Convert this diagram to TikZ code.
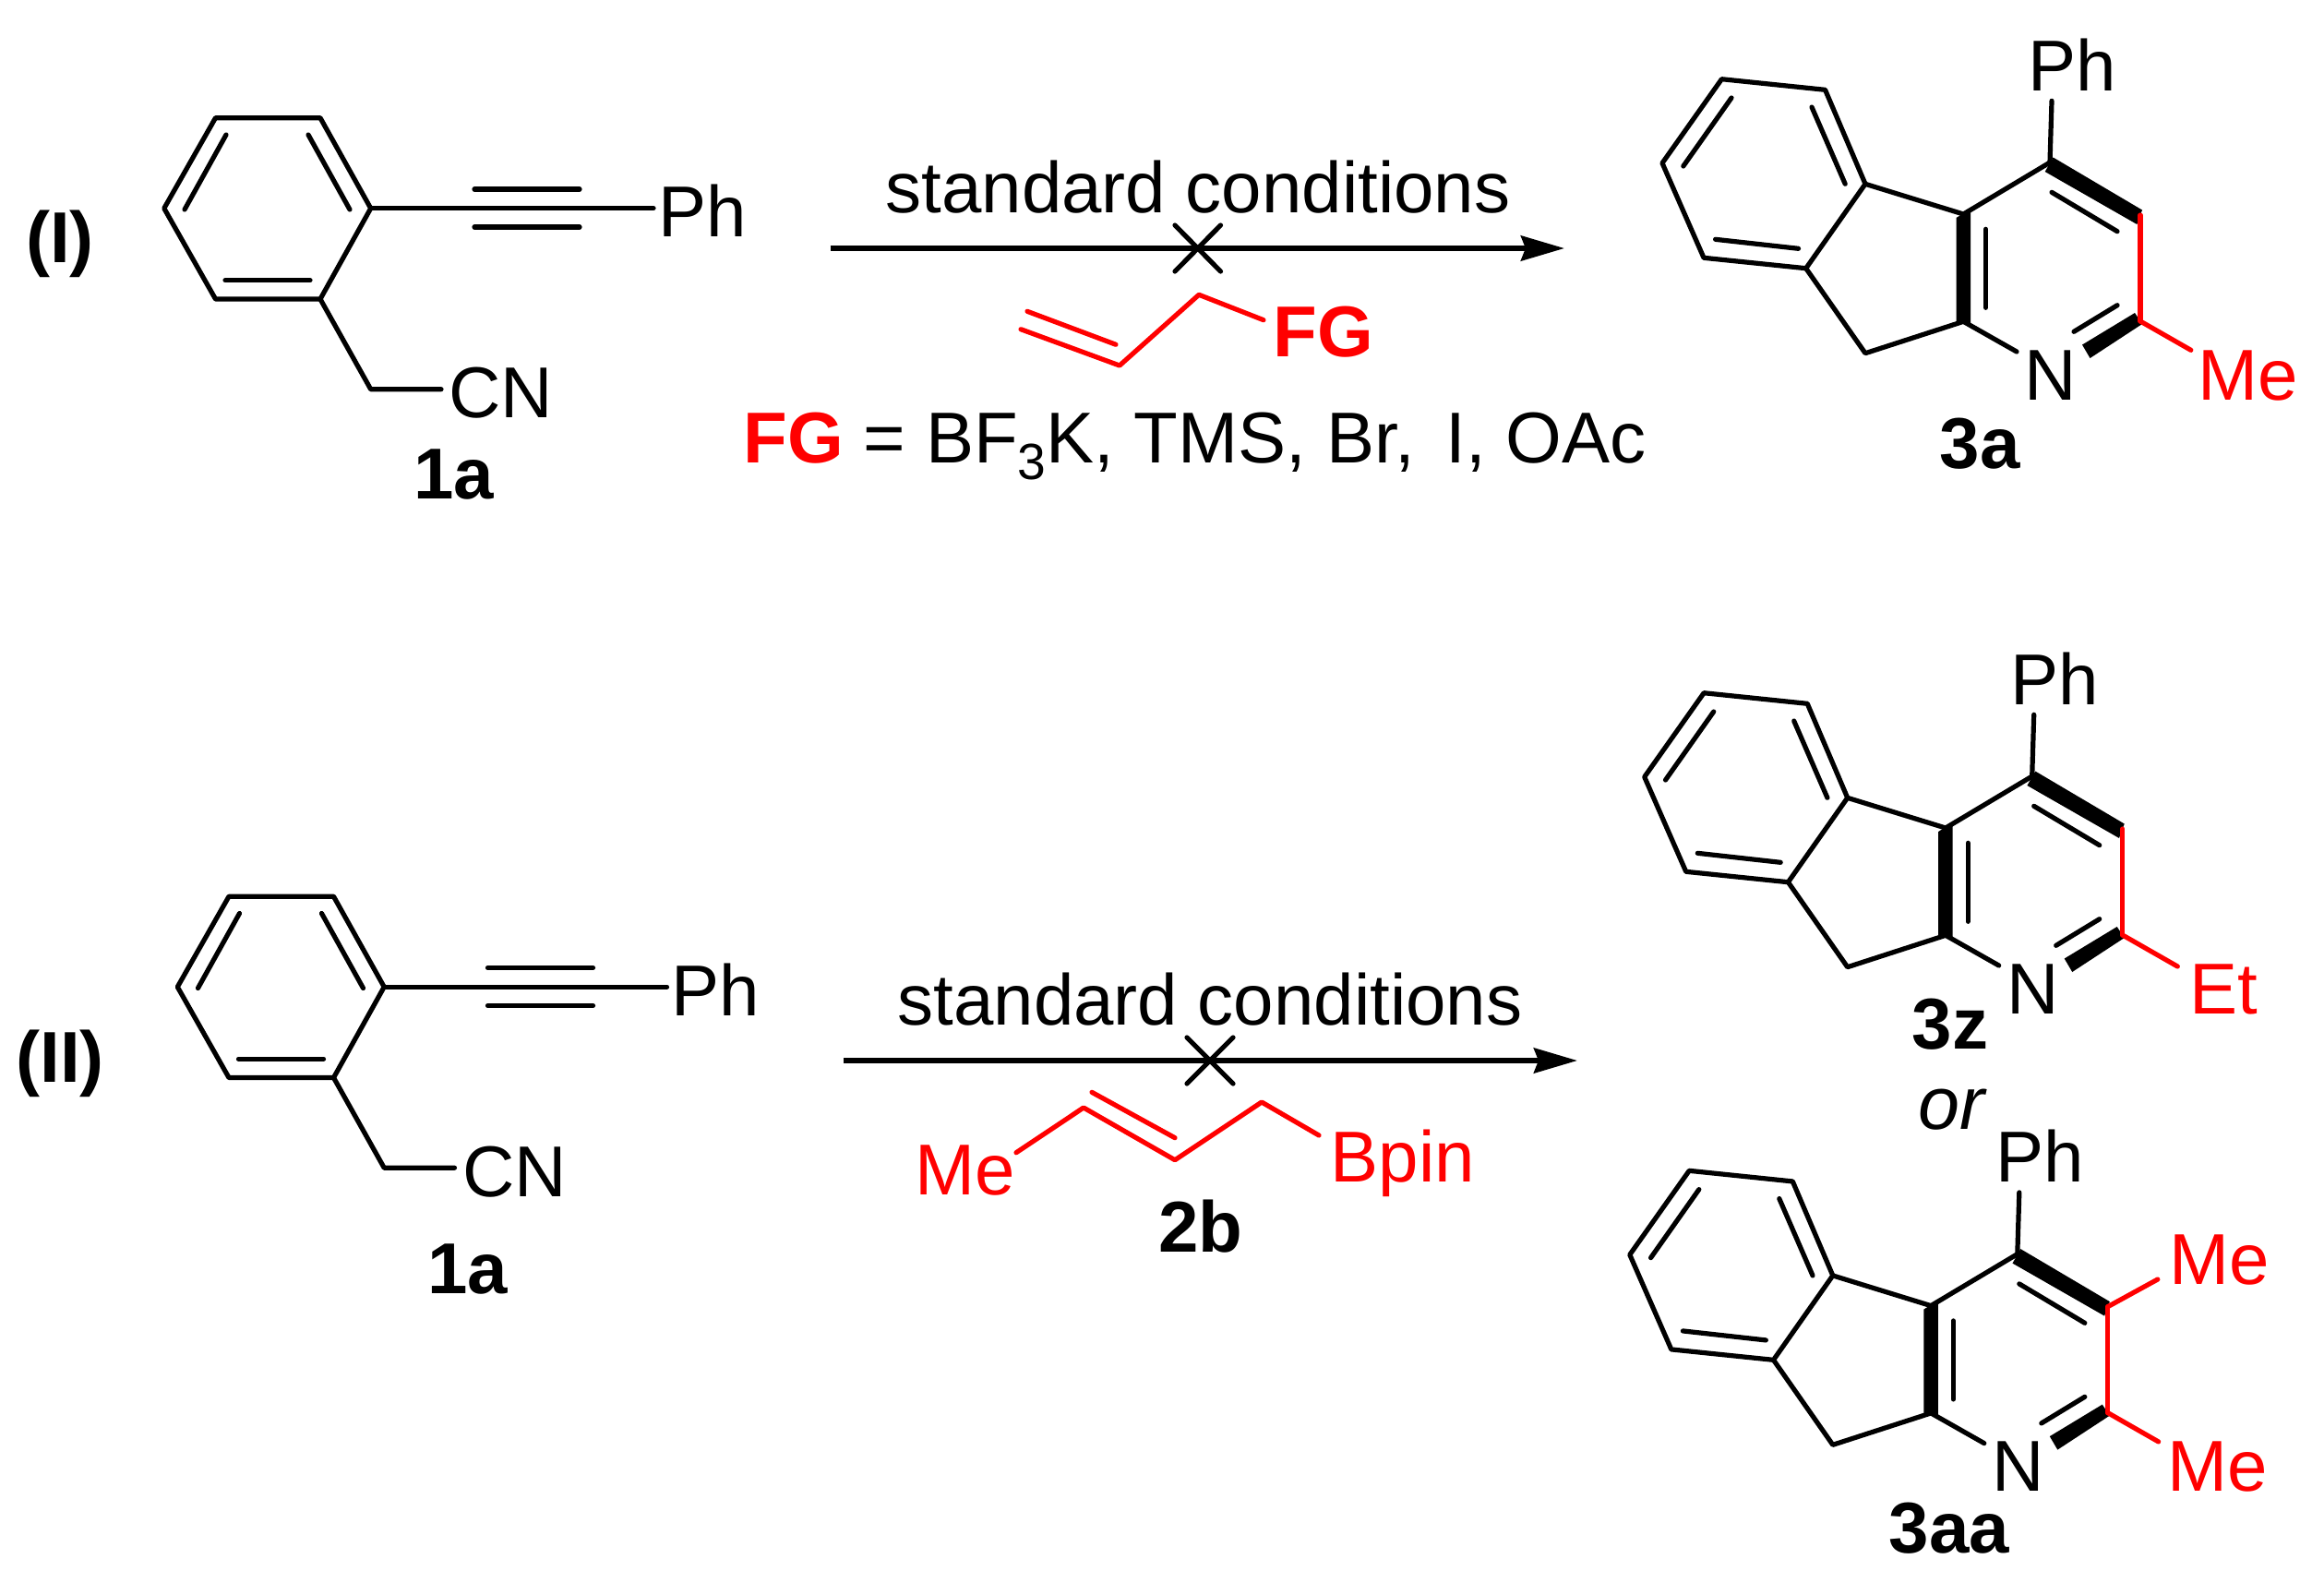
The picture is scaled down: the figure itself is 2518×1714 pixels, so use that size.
\documentclass[tikz,border=0pt]{standalone}
\usepackage{fontspec}
\setmainfont{Liberation Sans}
\usetikzlibrary{arrows.meta}
\definecolor{hl}{RGB}{255,0,0}
\tikzset{
  bond/.style={line width=0.052cm,line cap=round,line join=round,black},
  redbond/.style={bond,draw=hl},
  boldbond/.style={fill=black,draw=none},
  rxnarrow/.style={line width=0.058cm,-{Stealth[length=0.47cm,width=0.27cm,inset=0.05cm]}},
  chem/.style={inner sep=0,anchor=base,font=\fontsize{22.2}{26}\selectfont},
  redchem/.style={chem,text=hl},
  tag/.style={chem,font=\fontsize{22.2}{26}\selectfont\bfseries},
  redtag/.style={tag,text=hl}
}
\newcommand{\indenoCore}{%
  \coordinate (a) at (1865.4,85.7); \coordinate (b) at (1977.5,97.3);
  \coordinate (c) at (2021,199.3); \coordinate (d) at (1956.7,290.7);
  \coordinate (e) at (1846,279.3); \coordinate (f) at (1801,176.7);
  \coordinate (g) at (2127.3,232); \coordinate (h) at (2021,382.7);
  \coordinate (i) at (2127.3,348.3); \coordinate (j) at (2221,176);
  \coordinate (ph) at (2223,109.3); \coordinate (n) at (2185,381);
  \draw[bond] (a)--(b)--(c)--(d)--(e)--(f)--cycle;
  \draw[bond] (1876,106)--(1823.8,180);
  \draw[bond] (1963,116)--(1999.2,199.3);
  \draw[bond] (1858.6,259.3)--(1948.5,269.3);
  \draw[bond] (c)--(g)--(j);
  \draw[bond] (d)--(h)--(i)--(n);
  \draw[bond] (j)--(ph);
  \draw[bond] (2151.5,248.3)--(2151.5,333.3);
  \draw[bond] (2223,208.3)--(2294,250.7);
  \draw[bond] (2247,359.3)--(2294,330.7);
  \fill[boldbond] (2119.5,236)--(2127.3,231)--(2135,230)--(2135,351)--(2127.3,351)--(2119.5,348)--cycle;
  \fill[boldbond] (2224.5,170.5)--(2215.7,186)--(2315.3,243)--(2321,227.5)--cycle;
  \fill[boldbond] (2256,373.5)--(2264.5,388)--(2321,351)--(2313,339)--cycle;
  \coordinate (k) at (2319,233); \coordinate (l) at (2319,348);
  \draw[redbond] (k)--(l);
}
\newcommand{\subscr}[1]{\raisebox{-0.18cm}{\fontsize{15.7}{18}\selectfont #1}}
\begin{document}
\begin{tikzpicture}[x=0.01cm,y=-0.01cm]
\useasboundingbox[fill=white] (0,0) rectangle (2518,1714);

% ---- substrate 1a (two copies)
\foreach \sx/\sy/\ln in {0/0/one, 14.5/843.5/two}{
\begin{scope}[shift={(\sx,\sy)}]
  \coordinate (p1) at (233.5,127.7); \coordinate (p2) at (347,127.7);
  \coordinate (p3) at (401.7,225.7); \coordinate (p4) at (347,324);
  \coordinate (p5) at (233.5,324); \coordinate (p6) at (177.8,225.7);
  \coordinate (py) at (708,225.7); \coordinate (c1) at (401.7,421.7);
  \coordinate (c2) at (478,421.7);
  \draw[bond] (p1)--(p2)--(p3)--(p4)--(p5)--(p6)--cycle;
  \draw[bond] (245,146)--(200,227);
  \draw[bond] (334,146)--(379,227);
  \draw[bond] (244,303.7)--(336,303.7);
  \draw[bond] (p3)--(py);
  \draw[bond] (514,205)--(628,205);
  \draw[bond] (514,246)--(628,246);
  \draw[bond] (p4)--(c1)--(c2);
  \node[chem] (ph\ln) at (761,256.7) {Ph};
  \node[chem] (cn\ln) at (543,452.7) {CN};
\end{scope}
}
\node[tag] (s1) at (492,540) {1a};
\node[tag] (s2) at (507,1401) {1a};
\node[tag] (lab1) at (65,284) {(I)};
\node[tag] (lab2) at (65,1172) {(II)};

% ---- reaction I
\coordinate (ar1a) at (899.5,269); \coordinate (ar1b) at (1695,269);
\draw[rxnarrow] (ar1a)--(ar1b);
\draw[bond] (1273,244)--(1322.5,294);
\draw[bond] (1322.5,244)--(1273,294);
\node[chem] (cond1) at (1298,230.7) {standard conditions};
\coordinate (al1) at (1106,356.7); \coordinate (al2) at (1213,396);
\coordinate (al3) at (1299,319.3); \coordinate (al4) at (1369,346.7);
\draw[redbond] (al1)--(al2)--(al3)--(al4);
\draw[redbond] (1113,337.3)--(1209,373.3);
\node[redtag] (fg) at (1434,386) {FG};
\node[chem,anchor=base west] (fgdef) at (805,501.7) {\textcolor{hl}{\bfseries FG} = BF\subscr{3}K, TMS, Br,\hspace{0.12cm} I, OAc};

% ---- product 3a
\indenoCore
\coordinate (me) at (2373.8,379.3);
\draw[redbond] (l)--(me);
\node[chem] (p3aph) at (2245,98.7) {Ph};
\node[chem] (p3an) at (2222,433.3) {N};
\node[redchem] (p3ame) at (2436,433.3) {Me};
\node[tag] (p3a) at (2145,507) {3a};

% ---- reaction II
\coordinate (ar2a) at (914,1149); \coordinate (ar2b) at (1709,1149);
\draw[rxnarrow] (ar2a)--(ar2b);
\draw[bond] (1286,1124)--(1336,1174);
\draw[bond] (1336,1124)--(1286,1174);
\node[chem] (cond2) at (1311,1110.7) {standard conditions};
\coordinate (b1) at (1101,1248.7); \coordinate (b2) at (1174,1200);
\coordinate (b3) at (1273,1256.7); \coordinate (b4) at (1367,1194);
\coordinate (b5) at (1429,1230);
\draw[redbond] (b1)--(b2)--(b3)--(b4)--(b5);
\draw[redbond] (1183,1183.3)--(1273,1232.7);
\node[redchem] (b2me) at (1046,1294) {Me};
\node[redchem] (b2bp) at (1520,1280.7) {Bpin};
\node[tag] (b2lab) at (1301,1356.7) {2b};

% ---- product 3z
\begin{scope}[shift={(-19.3,665)}]
  \indenoCore
  \coordinate (et) at (2378.6,382);
  \draw[redbond] (l)--(et);
\end{scope}
\node[chem] (p3zph) at (2226,763.7) {Ph};
\node[chem] (p3zn) at (2203,1098.3) {N};
\node[redchem] (p3zet) at (2409,1098.3) {Et};
\node[tag] (p3z) at (2113,1136.7) {3z};
\node[chem,font=\fontsize{23}{26}\selectfont\itshape] (orword) at (2114,1223) {or};

% ---- product 3aa
\begin{scope}[shift={(-35.2,1182.6)}]
  \indenoCore
  \coordinate (m1) at (2373,203.4);
  \coordinate (m2) at (2373.8,379.3);
  \draw[redbond] (k)--(m1);
  \draw[redbond] (l)--(m2);
\end{scope}
\node[chem] (paph) at (2210,1280) {Ph};
\node[chem] (pan) at (2187,1615.7) {N};
\node[redchem] (pam1) at (2404.5,1391.7) {Me};
\node[redchem] (pam2) at (2403,1615.7) {Me};
\node[tag] (paa) at (2112,1682) {3aa};
\end{tikzpicture}
\end{document}
